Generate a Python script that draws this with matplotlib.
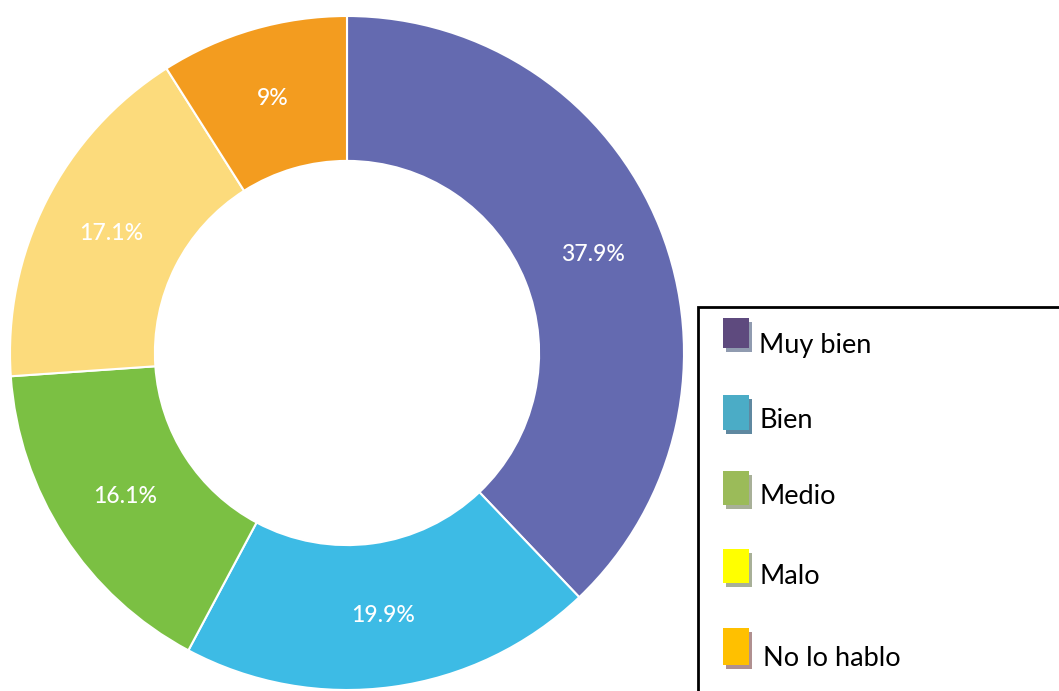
import matplotlib.pyplot as plt
import numpy as np
from matplotlib.patches import Rectangle

# wedge values, clockwise from 12 o'clock
values = [37.9, 19.9, 16.1, 17.1, 9.0]
wedge_colors = ['#646ab0', '#3dbbe5', '#7bc043', '#fcdb7c', '#f39c1f']

legend_labels = ['Muy bien', 'Bien', 'Medio', 'Malo', 'No lo hablo']
legend_colors = ['#5e4a7e', '#4bacc6', '#9bbb59', '#ffff00', '#ffc000']
shadow_colors = ['#909bb0', '#5f88a0', '#a8b098', '#a8b098', '#b09090']

W, H = 1059, 691
fig = plt.figure(figsize=(W / 100, H / 100), dpi=100)
ax = fig.add_axes([0, 0, 1, 1])

cx, cy, R = 347, H - 353, 337


def fmt(p):
    s = f'{p:.1f}%'
    return s.replace('.0%', '%')


wedges = ax.pie(values, colors=wedge_colors, startangle=90, counterclock=False,
                center=(cx, cy), radius=R, frame=True,
                wedgeprops=dict(width=R * 0.43, edgecolor='white', linewidth=1.5))[0]
for w, v in zip(wedges, values):
    ang = np.deg2rad((w.theta1 + w.theta2) / 2)
    r = R * 0.785
    ax.text(cx + r * np.cos(ang), cy + r * np.sin(ang), fmt(v), color='white',
            fontsize=16.5, fontfamily='Lato', fontweight='medium',
            ha='center', va='center')

ax.set_xlim(0, W)
ax.set_ylim(0, H)
ax.axis('off')

# legend box (runs off the right and bottom edges)
ax.add_patch(Rectangle((698, -10), 400, H - 307 + 10, facecolor='white',
                       edgecolor='black', linewidth=2, zorder=3))

patch_tops = [318, 395, 471, 549, 628]
patch_h = [30, 35, 34, 34, 37]
text_y = [345, 420, 497, 576, 659]
text_x = [759, 759, 759, 759, 763]
for lab, col, sh, top, ph, ty, tx in zip(legend_labels, legend_colors, shadow_colors,
                                         patch_tops, patch_h, text_y, text_x):
    ax.add_patch(Rectangle((726, H - top - ph - 4), 26, ph, facecolor=sh,
                           edgecolor='none', zorder=4))
    ax.add_patch(Rectangle((723, H - top - ph), 26, ph, facecolor=col,
                           edgecolor='none', zorder=5))
    ax.text(tx, H - ty, lab, fontsize=19.5, fontfamily='Lato', color='black',
            ha='left', va='center', zorder=6)

fig.savefig('out.png', dpi=100)
